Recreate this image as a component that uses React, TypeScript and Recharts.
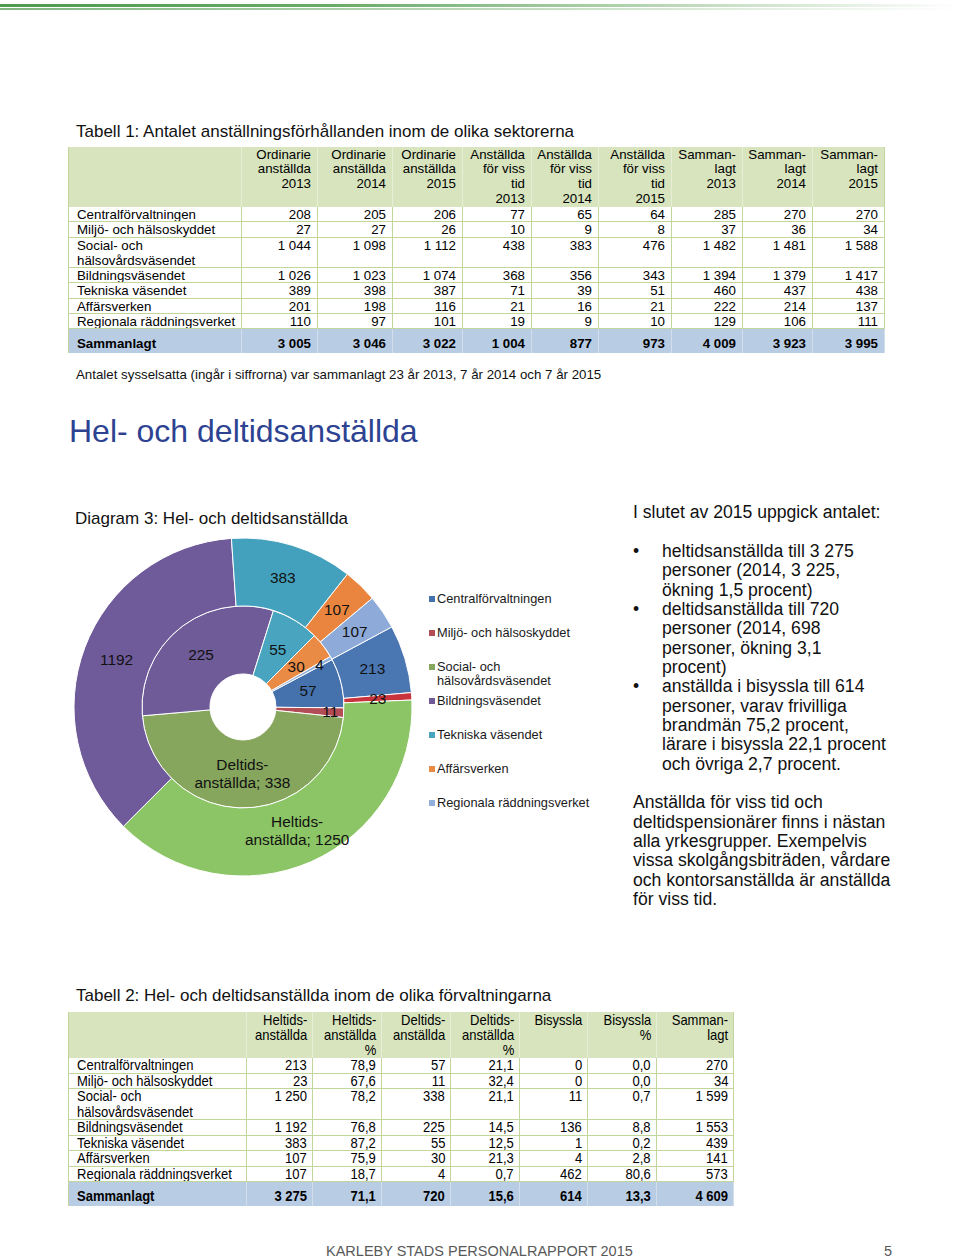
import React from 'react';
import { PieChart, Pie, Cell, Legend } from 'recharts';

const FONT = "'Liberation Sans', Arial, sans-serif";

// doughnut data (2015)
const categories = [
  'Centralförvaltningen',
  'Miljö- och hälsoskyddet',
  'Social- och hälsovårdsväsendet',
  'Bildningsväsendet',
  'Tekniska väsendet',
  'Affärsverken',
  'Regionala räddningsverket',
];
const heltid = [213, 23, 1250, 1192, 383, 107, 107];
const deltid = [57, 11, 338, 225, 55, 30, 4];
const heltidTitle = ['Heltids-', 'anställda'];
const deltidTitle = ['Deltids-', 'anställda'];

const outerColors = ['#4a76b2', '#c8333c', '#8cc565', '#6f5b9a', '#44a1bd', '#e9853e', '#8eaad8'];
const innerColors = ['#4572ad', '#b24d55', '#86a65d', '#6e5b98', '#49a4bf', '#e98a45', '#93afdb'];

// table 1
const t1Names = [
  'Centralförvaltningen',
  'Miljö- och hälsoskyddet',
  'Social- och\nhälsovårdsväsendet',
  'Bildningsväsendet',
  'Tekniska väsendet',
  'Affärsverken',
  'Regionala räddningsverket',
];
const t1Headers = [
  '',
  'Ordinarie\nanställda\n2013',
  'Ordinarie\nanställda\n2014',
  'Ordinarie\nanställda\n2015',
  'Anställda\nför viss\ntid\n2013',
  'Anställda\nför viss\ntid\n2014',
  'Anställda\nför viss\ntid\n2015',
  'Samman-\nlagt\n2013',
  'Samman-\nlagt\n2014',
  'Samman-\nlagt\n2015',
];
const ord2013 = [208, 27, 1044, 1026, 389, 201, 110];
const ord2014 = [205, 27, 1098, 1023, 398, 198, 97];
const ord2015 = [206, 26, 1112, 1074, 387, 116, 101];
const viss2013 = [77, 10, 438, 368, 71, 21, 19];
const viss2014 = [65, 9, 383, 356, 39, 16, 9];
const viss2015 = [64, 8, 476, 343, 51, 21, 10];
const sam2013 = [285, 37, 1482, 1394, 460, 222, 129];
const sam2014 = [270, 36, 1481, 1379, 437, 214, 106];
const sam2015 = [270, 34, 1588, 1417, 438, 137, 111];
const t1Totals = [3005, 3046, 3022, 1004, 877, 973, 4009, 3923, 3995];

// table 2
const t2Headers = [
  '',
  'Heltids-\nanställda',
  'Heltids-\nanställda\n%',
  'Deltids-\nanställda',
  'Deltids-\nanställda\n%',
  'Bisyssla',
  'Bisyssla\n%',
  'Samman-\nlagt',
];
const heltidPct = ['78,9', '67,6', '78,2', '76,8', '87,2', '75,9', '18,7'];
const deltidPct = ['21,1', '32,4', '21,1', '14,5', '12,5', '21,3', '0,7'];
const bisyssla = [0, 0, 11, 136, 1, 4, 462];
const bisysslaPct = ['0,0', '0,0', '0,7', '8,8', '0,2', '2,8', '80,6'];
const samman = [270, 34, 1599, 1553, 439, 141, 573];
const t2Totals = ['3 275', '71,1', '720', '15,6', '614', '13,3', '4 609'];

const fmt = (n: number) => String(n).replace(/\B(?=(\d{3})+(?!\d))/g, ' ');

type TableProps = {
  left: number;
  top: number;
  widths: number[];
  headers: string[];
  headerHeight: number;
  headerLine: number;
  names: string[];
  columns: string[][];
  rowLine: number;
  totals: string[];
  totalHeight: number;
  totalPad: number;
  fontSize: number;
  scaleX: number;
  padL: number;
  padR: number;
};

function DataTable(p: TableProps) {
  const line = '#c2d69b';
  const cellStyle = (i: number): React.CSSProperties => ({
    width: p.widths[i],
    flex: 'none',
    boxSizing: 'border-box',
    textAlign: i === 0 ? 'left' : 'right',
    paddingLeft: i === 0 ? p.padL : 0,
    paddingRight: i === 0 ? 0 : p.padR,
    overflow: 'hidden',
  });
  // condensed look: squeeze the glyphs horizontally, anchored on the aligned side
  const txt = (v: string, i: number) => (
    <span
      style={{
        display: 'inline-block',
        whiteSpace: 'pre',
        transform: p.scaleX === 1 ? undefined : `scaleX(${p.scaleX})`,
        transformOrigin: i === 0 ? 'left' : 'right',
      }}
    >
      {v}
    </span>
  );
  return (
    <div
      style={{
        position: 'absolute',
        left: p.left,
        top: p.top,
        fontFamily: FONT,
        fontSize: p.fontSize,
        color: '#000',
      }}
    >
      <div style={{ display: 'flex', height: p.headerHeight, background: '#d7e4bd', lineHeight: p.headerLine + 'px' }}>
        {p.headers.map((h, i) => (
          <div
            key={i}
            style={{
              ...cellStyle(i),
              paddingTop: 0.5,
              borderRight: i === p.headers.length - 1 ? `1px solid ${line}` : '1px solid #e6eed8',
              borderLeft: i === 0 ? `1px solid ${line}` : undefined,
            }}
          >
            {txt(h, i)}
          </div>
        ))}
      </div>
      {p.names.map((name, r) => {
        const lines = name.split('\n').length;
        return (
          <div key={name} style={{ display: 'flex', height: lines * p.rowLine, lineHeight: p.rowLine + 'px' }}>
            {[name, ...p.columns.map((c) => c[r])].map((v, i) => (
              <div
                key={i}
                style={{
                  ...cellStyle(i),
                  borderRight: `1px solid ${line}`,
                  borderLeft: i === 0 ? `1px solid ${line}` : undefined,
                  borderBottom: `1px solid ${line}`,
                }}
              >
                {txt(v, i)}
              </div>
            ))}
          </div>
        );
      })}
      <div
        style={{
          display: 'flex',
          height: p.totalHeight,
          background: '#b8cce4',
          lineHeight: p.rowLine + 'px',
          fontWeight: 'bold',
        }}
      >
        {['Sammanlagt', ...p.totals].map((v, i) => (
          <div
            key={i}
            style={{
              ...cellStyle(i),
              paddingTop: p.totalPad,
              borderRight: '1px solid #d3deec',
              borderLeft: i === 0 ? `1px solid ${line}` : undefined,
            }}
          >
            {txt(v, i)}
          </div>
        ))}
      </div>
    </div>
  );
}

const RAD = Math.PI / 180;

function makeLabel(title: string[], pushSmall: boolean) {
  return (props: any) => {
    const { cx, cy, midAngle, innerRadius, outerRadius, value, index, percent } = props;
    const frac = pushSmall && percent < 0.02 ? 0.8 : 0.5;
    const r = innerRadius + (outerRadius - innerRadius) * frac;
    const x = cx + r * Math.cos(-midAngle * RAD);
    const y = cy + r * Math.sin(-midAngle * RAD);
    const common = { fill: '#111', fontSize: 15.4, fontFamily: FONT, textAnchor: 'middle' as const };
    if (index === 2) {
      return (
        <text key={`l${index}`} {...common}>
          <tspan x={x} y={y - 9} dy="0.35em">
            {title[0]}
          </tspan>
          <tspan x={x} y={y + 9} dy="0.35em">
            {`${title[1]}; ${value}`}
          </tspan>
        </text>
      );
    }
    return (
      <text key={`l${index}`} x={x} y={y} dy="0.35em" {...common}>
        {value}
      </text>
    );
  };
}

const renderLegend = () => (
  <div style={{ fontFamily: FONT, fontSize: 12.8, color: '#1a1a1a' }}>
    {categories.map((c, i) => (
      <div key={c} style={{ height: 34, display: 'flex', alignItems: 'flex-start' }}>
        <span
          style={{ width: 6, height: 6, background: innerColors[i], marginTop: 4, marginRight: 2, flex: 'none' }}
        />
        <span style={{ lineHeight: '14px', width: 160 }}>{c}</span>
      </div>
    ))}
  </div>
);

const bullets = [
  ['heltidsanställda till 3 275', 'personer (2014, 3 225,', 'ökning 1,5 procent)'],
  ['deltidsanställda till 720', 'personer (2014, 698', 'personer, ökning 3,1', 'procent)'],
  [
    'anställda i bisyssla till 614',
    'personer, varav frivilliga',
    'brandmän 75,2 procent,',
    'lärare i bisyssla 22,1 procent',
    'och övriga 2,7 procent.',
  ],
];
const paragraph = [
  'Anställda för viss tid och',
  'deltidspensionärer finns i nästan',
  'alla yrkesgrupper. Exempelvis',
  'vissa skolgångsbiträden, vårdare',
  'och kontorsanställda är anställda',
  'för viss tid.',
];

export default function App() {
  const outerData = categories.map((name, i) => ({ name, value: heltid[i] }));
  const innerData = categories.map((name, i) => ({ name, value: deltid[i] }));

  return (
    <div
      style={{
        position: 'absolute',
        left: 0,
        top: 0,
        width: 960,
        height: 1258,
        background: '#fff',
        fontFamily: FONT,
        color: '#111',
        overflow: 'hidden',
      }}
    >
      {/* header rule */}
      <div
        style={{
          position: 'absolute',
          left: 0,
          top: 4,
          width: 960,
          height: 3,
          background: 'linear-gradient(to right, #4e9a4f 0%, #6aab6a 35%, #bcd8b8 70%, rgba(255,255,255,0) 100%)',
        }}
      />
      <div
        style={{
          position: 'absolute',
          left: 0,
          top: 8,
          width: 960,
          height: 1.5,
          background: 'linear-gradient(to right, #7fb57f 0%, #c9e0c6 60%, rgba(255,255,255,0) 100%)',
        }}
      />

      <div style={{ position: 'absolute', left: 76, top: 121.5, fontSize: 17, lineHeight: '20px' }}>
        Tabell 1: Antalet anställningsförhållanden inom de olika sektorerna
      </div>
      <DataTable
        left={68}
        top={147}
        widths={[174, 76, 75, 70, 69, 67, 73, 71, 70, 72]}
        headers={t1Headers}
        headerHeight={60}
        headerLine={14.7}
        names={t1Names}
        columns={[ord2013, ord2014, ord2015, viss2013, viss2014, viss2015, sam2013, sam2014, sam2015].map((c) =>
          c.map(fmt)
        )}
        rowLine={15.3}
        totals={t1Totals.map(fmt)}
        totalHeight={24}
        totalPad={7}
        fontSize={13.3}
        scaleX={1}
        padL={8}
        padR={6}
      />
      <div style={{ position: 'absolute', left: 76, top: 367, fontSize: 13.3, lineHeight: '16px' }}>
        Antalet sysselsatta (ingår i siffrorna) var sammanlagt 23 år 2013, 7 år 2014 och 7 år 2015
      </div>

      <div style={{ position: 'absolute', left: 69, top: 411, fontSize: 32, lineHeight: '40px', color: '#2d4392' }}>
        Hel- och deltidsanställda
      </div>

      <div style={{ position: 'absolute', left: 75, top: 509, fontSize: 17, lineHeight: '20px' }}>
        Diagram 3: Hel- och deltidsanställda
      </div>

      <div style={{ position: 'absolute', left: 60, top: 520 }}>
        <PieChart width={560} height={370} margin={{ top: 0, right: 0, bottom: 0, left: 0 }}>
          <Pie
            data={innerData}
            dataKey="value"
            nameKey="name"
            cx={183}
            cy={187}
            innerRadius={33}
            outerRadius={101}
            startAngle={28}
            endAngle={-332}
            stroke="#fff"
            strokeWidth={1}
            labelLine={false}
            label={makeLabel(deltidTitle, true)}
            isAnimationActive={false}
          >
            {innerData.map((d, i) => (
              <Cell key={d.name} fill={innerColors[i]} />
            ))}
          </Pie>
          <Pie
            data={outerData}
            dataKey="value"
            nameKey="name"
            cx={183}
            cy={187}
            innerRadius={101}
            outerRadius={169}
            startAngle={28.3}
            endAngle={-331.7}
            stroke="#fff"
            strokeWidth={1}
            labelLine={false}
            label={makeLabel(heltidTitle, false)}
            isAnimationActive={false}
          >
            {outerData.map((d, i) => (
              <Cell key={d.name} fill={outerColors[i]} />
            ))}
          </Pie>
          <Legend content={renderLegend} wrapperStyle={{ left: 369, top: 72, width: 190 }} />
        </PieChart>
      </div>

      <div style={{ position: 'absolute', left: 633, top: 503.3, fontSize: 17.6, lineHeight: '19.35px', width: 300 }}>
        <div>I slutet av 2015 uppgick antalet:</div>
        <div>&nbsp;</div>
        {bullets.map((b, i) => (
          <div key={i} style={{ position: 'relative', paddingLeft: 29 }}>
            <span style={{ position: 'absolute', left: 0, top: 0 }}>•</span>
            {b.map((l) => (
              <div key={l}>{l}</div>
            ))}
          </div>
        ))}
        <div>&nbsp;</div>
        {paragraph.map((l) => (
          <div key={l}>{l}</div>
        ))}
      </div>

      <div style={{ position: 'absolute', left: 76, top: 986, fontSize: 17, lineHeight: '20px' }}>
        Tabell 2: Hel- och deltidsanställda inom de olika förvaltningarna
      </div>
      <DataTable
        left={68}
        top={1012}
        widths={[179, 66, 69, 69, 69, 68, 69, 77]}
        headers={t2Headers}
        headerHeight={46}
        headerLine={15}
        names={t1Names}
        columns={[heltid.map(fmt), heltidPct, deltid.map(fmt), deltidPct, bisyssla.map(fmt), bisysslaPct, samman.map(fmt)]}
        rowLine={15.5}
        totals={t2Totals}
        totalHeight={24}
        totalPad={7.25}
        fontSize={14.8}
        scaleX={0.88}
        padL={8}
        padR={5}
      />

      <div style={{ position: 'absolute', left: 326, top: 1242, fontSize: 14.5, lineHeight: '18px', color: '#595959' }}>
        KARLEBY STADS PERSONALRAPPORT 2015
      </div>
      <div style={{ position: 'absolute', left: 884, top: 1242, fontSize: 14.5, lineHeight: '18px', color: '#595959' }}>
        5
      </div>
    </div>
  );
}
